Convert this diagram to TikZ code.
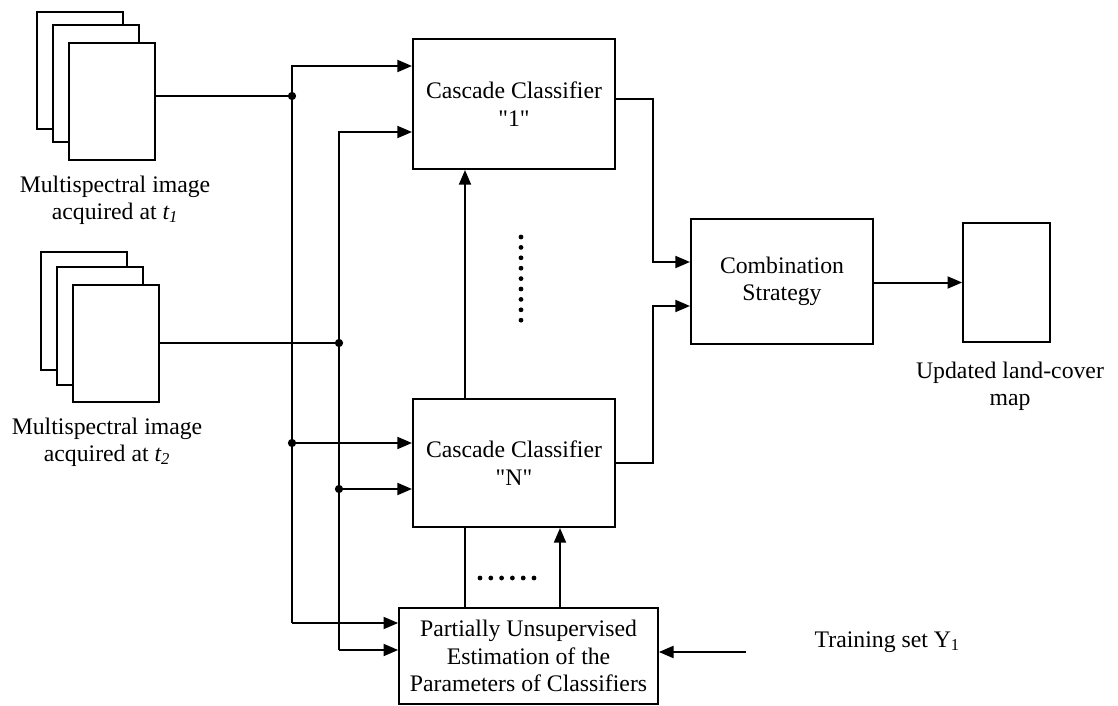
\documentclass[tikz,border=0pt]{standalone}
\usepackage{fontspec}
\setmainfont{Liberation Serif}
\newfontfamily\diafont{Liberation Serif}
\usetikzlibrary{arrows.meta,positioning,calc}

\tikzset{
  block/.style={draw, line width=1.5pt, fill=white, align=center,
    font=\diafont\fontsize{17.8}{20.5}\selectfont, inner sep=2pt},
  sheet/.style={draw, line width=1.5pt, fill=white,
    minimum width=64.5pt, minimum height=87.75pt, inner sep=0pt},
  lbl/.style={align=center, font=\diafont\fontsize{17.8}{20.5}\selectfont},
  wire/.style={line width=1.5pt},
  link/.style={wire, -{Triangle[length=11pt,width=9pt]}},
}

\begin{document}
\begin{tikzpicture}[x=0.75pt,y=-0.75pt]
\useasboundingbox (0,0) rectangle (1118,706);

% image stacks
\node[sheet] (imgAa) at (80,70.5) {};
\node[sheet] (imgAb) at (96,84) {};
\node[sheet] (imgAc) at (112,102) {};
\node[sheet] (imgBa) at (84,311) {};
\node[sheet] (imgBb) at (100,326) {};
\node[sheet] (imgBc) at (116,343) {};
\node[lbl] (txtA) at (115,200) {Multispectral image\\acquired at \textit{t\textsubscript{1}}};
\node[lbl] (txtB) at (107,442) {Multispectral image\\acquired at \textit{t\textsubscript{2}}};

% blocks
\node[block, minimum width=151.5pt, minimum height=97.5pt] (casc1) at (514,104) {Cascade Classifier\\"1"};
\node[block, minimum width=151.5pt, minimum height=96pt] (cascN) at (514,463) {Cascade Classifier\\"N"};
\node[block, minimum width=136.5pt, minimum height=93.75pt] (comb) at (782,281.5) {Combination\\Strategy};
\node[block, minimum width=65pt, minimum height=89pt] (map) at (1006.5,282.5) {};
\node[block, minimum width=194pt, minimum height=72pt] (est) at (528.5,656) {Partially Unsupervised\\Estimation of the\\Parameters of Classifiers};
\node[lbl] (txtMap) at (1010,386) {Updated land-cover\\map};
\node[lbl, anchor=west] (txtY) at (810,642) {Training set Y\textsubscript{1}};

% bus points
\coordinate (jA) at (292,96);
\coordinate (jB) at (339,343);
\coordinate (jC) at (292,443);
\coordinate (jD) at (339,489);
\coordinate (aTop) at (292,66);
\coordinate (aBot) at (292,623);
\coordinate (bTop) at (339,132);
\coordinate (bBot) at (339,650);
\coordinate (mA) at (653,99);
\coordinate (mB) at (653,262);
\coordinate (mC) at (653,463);
\coordinate (mD) at (653,306);
\coordinate (vx1) at (465,0);
\coordinate (vx2) at (560,0);
\coordinate (ySrc) at (746,652);

% inputs
\draw[wire] (imgAc.east |- jA) -- (jA);
\draw[wire] (imgBc.east |- jB) -- (jB);
\draw[link] (aBot) |- (casc1.west |- aTop);
\draw[link] (jC) -- (jC -| cascN.west);
\draw[link] (aBot) -- (aBot -| est.west);
\draw[link] (bBot) |- (casc1.west |- bTop);
\draw[link] (jD) -- (jD -| cascN.west);
\draw[link] (bBot) -- (bBot -| est.west);
\foreach \j in {jA,jB,jC,jD}
  \fill (\j) circle (3.1pt);

% outputs
\draw[link] (casc1.east |- mA) -- (mA) -- (mB) -- (mB -| comb.west);
\draw[link] (cascN.east |- mC) -- (mC) -- (mD) -- (mD -| comb.west);
\draw[link] (comb.east |- map.west) -- (map.west);

% between blocks
\draw[link] (cascN.north -| vx1) -- (casc1.south -| vx1);
\draw[wire] (est.north -| vx1) -- (cascN.south -| vx1);
\draw[link] (est.north -| vx2) -- (cascN.south -| vx2);
\draw[link] (ySrc) -- (est.east |- ySrc);

% dots
\foreach \k in {0,...,8}
  \fill (521,237+10.4*\k) circle (1.8pt);
\foreach \k in {0,...,5}
  \fill (480+10.8*\k,578) circle (1.8pt);

\end{tikzpicture}
\end{document}
